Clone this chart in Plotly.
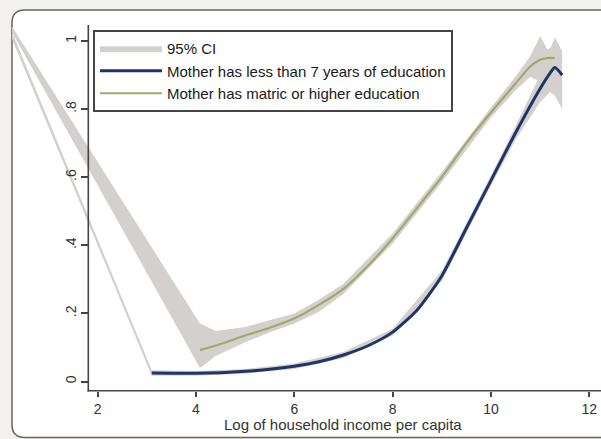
import plotly.graph_objects as go

# ---------------- data ----------------
x_ticks = [2, 4, 6, 8, 10, 12]
y_ticks = [0, 0.2, 0.4, 0.6, 0.8, 1]
y_tick_labels = ["0", ".2", ".4", ".6", ".8", "1"]

# Mother has less than 7 years of education
blue_x = [3.10, 3.5, 4.0, 4.5, 5.0, 5.5, 6.0, 6.5, 7.0, 7.5, 8.0, 8.5, 9.0, 9.5, 10.0, 10.5, 11.0, 11.2, 11.3, 11.45]
blue_y = [0.025, 0.024, 0.024, 0.026, 0.030, 0.036, 0.045, 0.058, 0.078, 0.105, 0.145, 0.21, 0.31, 0.45, 0.59, 0.73, 0.86, 0.905, 0.922, 0.90]

blue_ci_x = [0.0, 3.10, 4.0, 5.0, 6.0, 7.0, 8.0, 9.0, 10.0, 10.5, 11.0, 11.2, 11.3, 11.45]
blue_ci_lo = [1.095, 0.017, 0.017, 0.023, 0.037, 0.069, 0.135, 0.295, 0.575, 0.71, 0.82, 0.85, 0.84, 0.80]
blue_ci_hi = [1.116, 0.033, 0.031, 0.037, 0.053, 0.087, 0.155, 0.325, 0.605, 0.75, 0.90, 0.97, 1.01, 0.97]

# Mother has matric or higher education
green_x = [4.08, 4.5, 5.0, 5.5, 6.0, 6.5, 7.0, 7.5, 8.0, 8.5, 9.0, 9.5, 10.0, 10.5, 10.8, 11.0, 11.15, 11.3]
green_y = [0.092, 0.110, 0.135, 0.158, 0.185, 0.225, 0.272, 0.34, 0.42, 0.51, 0.60, 0.70, 0.79, 0.875, 0.925, 0.945, 0.95, 0.95]

green_ci_x = [0.0, 4.08, 4.4, 5.0, 5.5, 6.0, 6.5, 7.0, 8.0, 9.0, 10.0, 10.5, 10.8, 11.0, 11.15, 11.3]
green_ci_lo = [1.092, 0.040, 0.075, 0.115, 0.145, 0.170, 0.205, 0.257, 0.405, 0.585, 0.775, 0.855, 0.895, 0.88, 0.92, 0.91]
green_ci_hi = [1.101, 0.170, 0.148, 0.160, 0.180, 0.200, 0.240, 0.287, 0.435, 0.615, 0.805, 0.895, 0.955, 1.015, 0.975, 0.99]

# ---------------- figure ----------------
W, H = 601, 439
FONT = "Liberation Sans, Arial, sans-serif"
CI_COLOR = "#d3d0ce"
BLUE = "#1f3468"
GREEN = "#a2a76c"
BG = "#f2f1ef"

fig = go.Figure()

fig.add_trace(go.Scatter(
    x=blue_ci_x + blue_ci_x[::-1], y=blue_ci_hi + blue_ci_lo[::-1],
    fill="toself", fillcolor=CI_COLOR, line=dict(width=0), mode="lines",
    name="95% CI", showlegend=True, hoverinfo="skip"))
fig.add_trace(go.Scatter(
    x=green_ci_x + green_ci_x[::-1], y=green_ci_hi + green_ci_lo[::-1],
    fill="toself", fillcolor=CI_COLOR, line=dict(width=0), mode="lines",
    name="95% CI", showlegend=False, hoverinfo="skip"))
fig.add_trace(go.Scatter(
    x=blue_x, y=blue_y, mode="lines",
    line=dict(color=BLUE, width=3, shape="spline", smoothing=0.6),
    name="Mother has less than 7 years of education"))
fig.add_trace(go.Scatter(
    x=green_x, y=green_y, mode="lines",
    line=dict(color=GREEN, width=2.2, shape="spline", smoothing=0.6),
    name="Mother has matric or higher education"))

# pixel helpers for layout placement
def px(v):
    return v / W

def py(v):
    return 1 - v / H

L, T, R, B = px(12), py(10), 1.03, py(437.5)
rx, ry = px(13), 13 / H
frame = (f"M {L},{T - ry} Q {L},{T} {L + rx},{T} L {R},{T} L {R},{B} "
         f"L {L + rx},{B} Q {L},{B} {L},{B + ry} Z")

fig.update_layout(
    width=W, height=H,
    margin=dict(l=0, r=0, t=0, b=0),
    paper_bgcolor=BG,
    plot_bgcolor="rgba(0,0,0,0)",
    font=dict(family=FONT, color="#333333", size=14),
    shapes=[
        dict(type="path", path=frame, xref="paper", yref="paper",
             line=dict(color="#666666", width=1.5), fillcolor="#ffffff", layer="below"),
        dict(type="line", xref="paper", yref="paper",
             x0=px(88.3), x1=px(88.3), y0=py(25), y1=py(391.5),
             line=dict(color="#444444", width=1.6)),
        dict(type="line", xref="paper", yref="paper",
             x0=px(87.5), x1=1.01, y0=py(390.7), y1=py(390.7),
             line=dict(color="#444444", width=1.6)),
    ],
    xaxis=dict(
        domain=[px(12), 1], range=[0.256, 12.24],
        tickmode="array", tickvals=x_ticks,
        ticks="outside", ticklen=5, tickwidth=1.5, tickcolor="#444444",
        showgrid=False, zeroline=False, showline=False,
        tickfont=dict(size=14, color="#333333"),
        ticklabeloverflow="allow",
    ),
    yaxis=dict(
        domain=[py(390.7), py(10)], range=[-0.027, 1.091],
        anchor="free", position=px(88.3),
        tickmode="array", tickvals=y_ticks, ticktext=y_tick_labels,
        ticks="outside", ticklen=7, tickwidth=1.5, tickcolor="#444444",
        tickangle=-90,
        showgrid=False, zeroline=False, showline=False,
        tickfont=dict(size=14, color="#333333"),
    ),
    legend=dict(
        x=px(93), y=py(30), xanchor="left", yanchor="top",
        bgcolor="#ffffff", bordercolor="#444444", borderwidth=2,
        font=dict(size=15, color="#1a1a1a", family=FONT),
        tracegroupgap=0, itemwidth=62,
    ),
    annotations=[
        dict(text="Log of household income per capita", xref="paper", yref="paper",
             x=px(343), y=py(424), xanchor="center", yanchor="middle",
             showarrow=False, font=dict(size=15, color="#333333", family=FONT)),
    ],
)

fig.write_html(
    "out.html",
    config={"displayModeBar": False},
    post_script=(
        "document.body.style.margin='0';"
        "document.body.style.padding='0';"
        "document.body.style.overflow='hidden';"
        f"document.body.style.background='{BG}';"
    ),
)
